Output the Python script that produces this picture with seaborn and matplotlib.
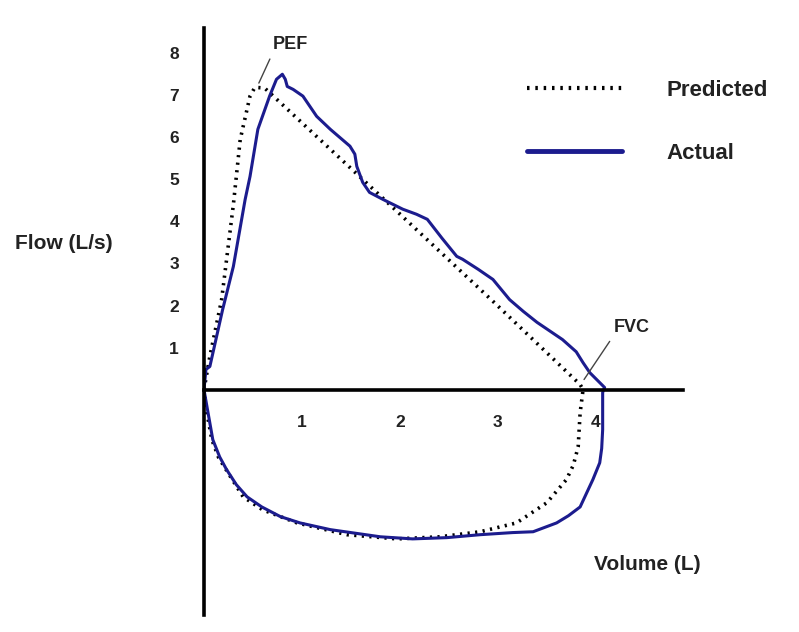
import matplotlib
matplotlib.use("Agg")
import matplotlib.pyplot as plt
import seaborn as sns
import pandas as pd
from matplotlib.lines import Line2D

# predicted loop: expiration (top) then inspiration (bottom), volume in L, flow in L/s
pred_vol = [0.0, 0.06, 0.18, 0.30, 0.37, 0.47, 0.52, 0.62, 1.97, 2.95, 3.84, 3.87,
            3.84, 3.82, 3.77, 3.70, 3.50, 3.19, 2.82, 2.41, 1.97, 1.46, 0.95, 0.60,
            0.40, 0.27, 0.15, 0.08, 0.03, 0.0]
pred_flow = [0.0, 0.79, 2.14, 4.40, 5.95, 6.98, 7.19, 7.17, 4.24, 2.10, 0.12, 0.0,
             -0.55, -1.36, -1.80, -2.14, -2.69, -3.17, -3.38, -3.50, -3.55, -3.45, -3.17, -2.86,
             -2.55, -2.07, -1.62, -1.19, -0.55, 0.0]

# actual loop
act_vol = [0.0, 0.02, 0.06, 0.19, 0.30, 0.42, 0.47, 0.55, 0.67, 0.74, 0.80, 0.83,
           0.85, 0.91, 1.01, 1.15, 1.29, 1.49, 1.54, 1.56, 1.62, 1.69, 1.83, 2.03,
           2.17, 2.28, 2.43, 2.58, 2.64, 2.80, 2.95, 3.12, 3.26, 3.40, 3.66, 3.80,
           3.87, 3.94, 4.09, 4.08, 4.07, 4.07, 4.06, 4.04, 3.97, 3.84, 3.72, 3.60,
           3.36, 3.15, 2.82, 2.48, 2.13, 1.80, 1.29, 0.98, 0.78, 0.59, 0.44, 0.33,
           0.23, 0.16, 0.09, 0.03, 0.0]
act_flow = [0.0, 0.48, 0.55, 1.90, 2.93, 4.52, 5.07, 6.19, 6.98, 7.38, 7.50, 7.38,
            7.21, 7.14, 6.98, 6.50, 6.19, 5.79, 5.60, 5.31, 4.93, 4.69, 4.52, 4.29,
            4.17, 4.05, 3.60, 3.17, 3.10, 2.86, 2.62, 2.14, 1.86, 1.60, 1.19, 0.90,
            0.64, 0.40, 0.05, 0.0, -0.07, -0.95, -1.40, -1.74, -2.14, -2.79, -3.00, -3.17,
            -3.38, -3.40, -3.45, -3.52, -3.55, -3.50, -3.33, -3.17, -3.02, -2.79, -2.55, -2.26,
            -1.90, -1.60, -1.19, -0.40, 0.0]

x_ticks = [1, 2, 3, 4]
y_ticks = [1, 2, 3, 4, 5, 6, 7, 8]

pred_color = "black"
act_color = "#1c1c8e"

sns.set_style("white")
plt.rcParams["font.family"] = ["Liberation Sans", "DejaVu Sans"]

fig = plt.figure(figsize=(7.99, 6.32), dpi=100)
ax = fig.add_axes([0.2553, 0.0269, 0.5995, 0.9288])

pred_df = pd.DataFrame({"volume": pred_vol, "flow": pred_flow})
act_df = pd.DataFrame({"volume": act_vol, "flow": act_flow})

sns.lineplot(data=pred_df, x="volume", y="flow", sort=False, estimator=None,
             color=pred_color, linewidth=2.6, linestyle=(0, (0.6, 1.5)), ax=ax)
sns.lineplot(data=act_df, x="volume", y="flow", sort=False, estimator=None,
             color=act_color, linewidth=2.2, ax=ax)
for ln in ax.get_lines():
    ln.set_solid_joinstyle("round")

ax.set_xlim(0, 4.89)
ax.set_ylim(-5.36, 8.6)

for side in ["top", "right"]:
    ax.spines[side].set_visible(False)
ax.spines["bottom"].set_position(("data", 0))
ax.spines["left"].set_linewidth(2.6)
ax.spines["bottom"].set_linewidth(2.6)
ax.spines["left"].set_color("black")
ax.spines["bottom"].set_color("black")

ax.set_xticks(x_ticks)
ax.set_yticks(y_ticks)
ax.set_xticklabels([str(t) for t in x_ticks])
ax.set_yticklabels([str(t) for t in y_ticks])
ax.tick_params(axis="both", direction="out", length=5, width=2.4, color="black",
               labelsize=12.5, pad=13)
for lab in ax.get_xticklabels() + ax.get_yticklabels():
    lab.set_fontweight("bold")
    lab.set_color("#222222")

ax.set_xlabel("")
ax.set_ylabel("")
fig.text(15 / 799, 1 - 243 / 632, "Flow (L/s)", fontsize=15, fontweight="bold",
         color="#222222", ha="left", va="center")
fig.text(594 / 799, 1 - 565 / 632, "Volume (L)", fontsize=15, fontweight="bold",
         color="#222222", ha="left", va="center")

ax.annotate("PEF", xy=(0.56, 7.29), xytext=(0.70, 8.0), fontsize=13, fontweight="bold",
            color="#222222", ha="left", va="bottom",
            arrowprops=dict(arrowstyle="-", color="#444444", lw=1,
                            relpos=(0, 0), shrinkA=2, shrinkB=0))
ax.annotate("FVC", xy=(3.88, 0.24), xytext=(4.18, 1.28), fontsize=13, fontweight="bold",
            color="#222222", ha="left", va="bottom",
            arrowprops=dict(arrowstyle="-", color="#444444", lw=1,
                            relpos=(0, 0), shrinkA=2, shrinkB=0))

handles = [
    Line2D([], [], color=pred_color, linewidth=3, linestyle=(0, (0.6, 1.4))),
    Line2D([], [], color=act_color, linewidth=3.5),
]
leg = ax.legend(handles, ["Predicted", "Actual"], loc="upper left",
                bbox_to_anchor=(0.674, 0.912), frameon=False, borderpad=0,
                borderaxespad=0, handlelength=4.3, handletextpad=2.0,
                labelspacing=1.9, prop={"size": 16, "weight": "bold"})
for t in leg.get_texts():
    t.set_color("#222222")

fig.savefig("out.png", dpi=100)
